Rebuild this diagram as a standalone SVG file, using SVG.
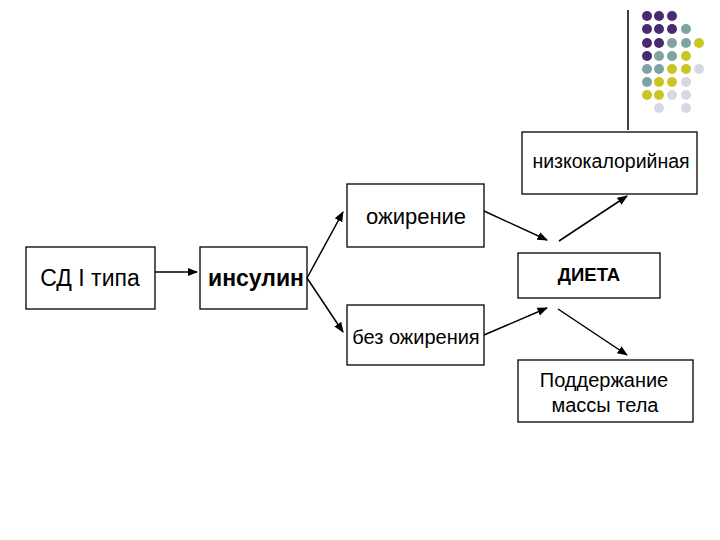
<svg xmlns="http://www.w3.org/2000/svg" width="720" height="540" viewBox="0 0 720 540">
<style>
.b{fill:#fff;stroke:#000;stroke-width:1.3}
.t{font-family:"Liberation Sans",Arial,sans-serif;font-size:19px;fill:#000;text-anchor:middle}
.c line{stroke:#000;stroke-width:1.5;marker-end:url(#a)}
.P{fill:#4a2a6e}.T{fill:#7fa3a0}.Y{fill:#c9c624}.L{fill:#d6d6e6}
</style>
<defs><marker id="a" viewBox="0 0 10 10" refX="9" refY="5" markerWidth="7" markerHeight="7" orient="auto"><path d="M0,1 L10,5 L0,9 z"/></marker></defs>
<rect width="720" height="540" fill="#fff"/>
<g id="decor">
<line x1="628" y1="10" x2="628" y2="130" stroke="#000" stroke-width="1.5"/>
<g>
<circle class="P" cx="647" cy="16" r="5"/><circle class="P" cx="659" cy="16" r="5"/><circle class="P" cx="672" cy="16" r="5"/>
<circle class="P" cx="647" cy="29" r="5"/><circle class="P" cx="659" cy="29" r="5"/><circle class="P" cx="672" cy="29" r="5"/><circle class="T" cx="686" cy="29" r="5"/>
<circle class="P" cx="647" cy="43" r="5"/><circle class="P" cx="659" cy="43" r="5"/><circle class="T" cx="672" cy="43" r="5"/><circle class="T" cx="686" cy="43" r="5"/><circle class="Y" cx="699" cy="43" r="5"/>
<circle class="P" cx="647" cy="56" r="5"/><circle class="T" cx="659" cy="56" r="5"/><circle class="T" cx="672" cy="56" r="5"/><circle class="Y" cx="686" cy="56" r="5"/>
<circle class="T" cx="647" cy="69" r="5"/><circle class="T" cx="659" cy="69" r="5"/><circle class="Y" cx="672" cy="69" r="5"/><circle class="Y" cx="686" cy="69" r="5"/><circle class="L" cx="699" cy="69" r="5"/>
<circle class="T" cx="647" cy="82" r="5"/><circle class="Y" cx="659" cy="82" r="5"/><circle class="Y" cx="672" cy="82" r="5"/><circle class="L" cx="686" cy="82" r="5"/>
<circle class="Y" cx="647" cy="95" r="5"/><circle class="Y" cx="659" cy="95" r="5"/><circle class="L" cx="672" cy="95" r="5"/><circle class="L" cx="686" cy="95" r="5"/>
<circle class="L" cx="659" cy="108" r="5"/><circle class="L" cx="686" cy="108" r="5"/>
</g>
</g>
<g id="n1"><rect class="b" x="522" y="132" width="175" height="62"/><text class="t" x="611" y="168" style="font-size:19.5px">низкокалорийная</text></g>
<g id="n2"><rect class="b" x="347" y="184" width="137" height="63"/><text class="t" x="416" y="224" style="font-size:22px">ожирение</text></g>
<g id="n3"><rect class="b" x="26" y="247" width="129" height="62"/><text class="t" x="90" y="286" style="font-size:23px">СД I типа</text></g>
<g id="n4"><rect class="b" x="200" y="247" width="107" height="62"/><text class="t" x="256" y="286" style="font-weight:bold;font-size:23px">инсулин</text></g>
<g id="n5"><rect class="b" x="518" y="253" width="142" height="45"/><text class="t" x="589" y="281" style="font-weight:bold;font-size:18.5px">ДИЕТА</text></g>
<g id="n6"><rect class="b" x="347" y="305" width="137" height="60"/><text class="t" x="416" y="344" style="font-size:20px">без ожирения</text></g>
<g id="n7"><rect class="b" x="518" y="360" width="175" height="62"/><text class="t" x="604" y="387" style="font-size:20px">Поддержание</text><text class="t" x="605" y="412" style="font-size:20px">массы тела</text></g>
<g id="connectors" class="c">
<line x1="155" y1="272" x2="197" y2="272"/>
<line x1="307" y1="278" x2="343" y2="212"/>
<line x1="307" y1="278" x2="343" y2="332"/>
<line x1="484" y1="211" x2="547" y2="240"/>
<line x1="484" y1="335" x2="547" y2="308"/>
<line x1="559" y1="241" x2="627" y2="196"/>
<line x1="558" y1="309" x2="627" y2="355"/>
</g>
</svg>
